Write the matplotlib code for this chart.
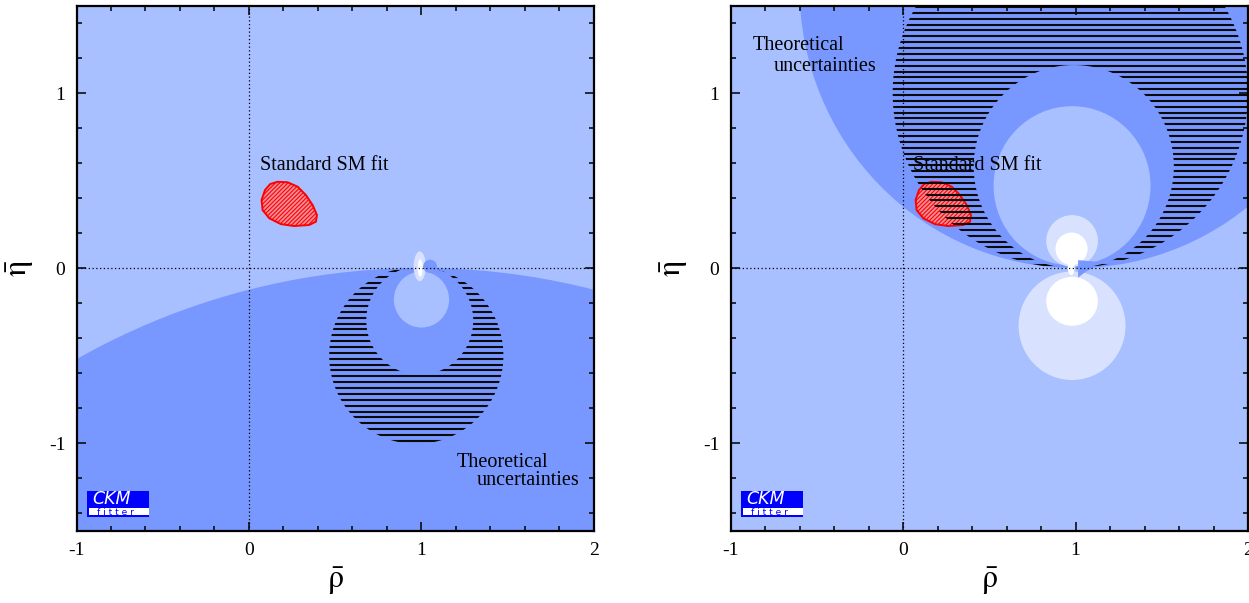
import numpy as np
import matplotlib
matplotlib.use("Agg")
import matplotlib.pyplot as plt
from matplotlib.patches import Ellipse, Polygon, PathPatch, Rectangle
from matplotlib.path import Path
from matplotlib.ticker import MultipleLocator

plt.rcParams['font.family'] = ['Liberation Serif', 'DejaVu Serif']
plt.rcParams['mathtext.fontset'] = 'stix'
plt.rcParams['axes.unicode_minus'] = False
plt.rcParams['hatch.linewidth'] = 0.8

# colours of the likelihood levels
light = '#A8C0FF'
dark = '#7898FF'
pale = '#D8E2FF'
white = '#FFFFFF'

# axes range and ticks
x_range = [-1, 2]
y_range = [-1.5, 1.5]
x_ticks = [-1, 0, 1, 2]
y_ticks = [-1, 0, 1]

# standard SM fit contour (rho, eta)
sm_rho = [0.166, 0.224, 0.282, 0.330, 0.369, 0.394, 0.388, 0.349, 0.262, 0.185, 0.118, 0.079, 0.073, 0.093, 0.123]
sm_eta = [0.493, 0.490, 0.465, 0.417, 0.360, 0.303, 0.265, 0.246, 0.240, 0.251, 0.284, 0.331, 0.389, 0.446, 0.480]

# regions as ellipses: (rho centre, eta centre, width, height, colour)
left_regions = [
    (1.0, -4.1, 8.2, 8.2, dark),
    (1.0, -0.18, 0.32, 0.32, light),
    (0.99, 0.01, 0.07, 0.17, pale),
    (0.993, 0.0, 0.028, 0.1, white),
    (1.05, 0.01, 0.08, 0.075, dark),
]
right_regions = [
    (1.0, 1.6, 3.2, 3.2, dark),
    (0.98, 0.47, 0.91, 0.91, light),
    (0.98, -0.33, 0.62, 0.62, pale),
    (0.98, 0.155, 0.30, 0.295, pale),
    (0.977, 0.11, 0.186, 0.186, white),
    (0.98, -0.19, 0.30, 0.28, white),
    (0.975, 0.0, 0.04, 0.08, white),
]
right_wedge_rho = [1.015, 1.015, 1.06, 1.14, 1.14]
right_wedge_eta = [0.045, -0.055, -0.02, 0.02, 0.035]

# theoretical uncertainty band: outer ellipse minus inner ellipse (cx, cy, w, h)
left_band_outer = (0.97, -0.5, 1.01, 1.01)
left_band_inner = (0.99, -0.30, 0.62, 0.62)
right_band_outer = (0.97, 1.0, 2.06, 2.0)
right_band_inner = (0.99, 0.58, 1.16, 1.16)

# label positions (rho, eta)
left_sm_pos = (0.064, 0.585)
right_sm_pos = (0.058, 0.585)
left_theo_pos = [(1.204, -1.109), (1.32, -1.217)]
right_theo_pos = [(-0.872, 1.274), (-0.75, 1.149)]


def ellipse_path(cx, cy, w, h, reverse=False):
    t = np.linspace(0, 2 * np.pi, 300)
    if reverse:
        t = t[::-1]
    v = np.column_stack([cx + w / 2 * np.cos(t), cy + h / 2 * np.sin(t)])
    codes = [Path.MOVETO] + [Path.LINETO] * (len(v) - 2) + [Path.CLOSEPOLY]
    return Path(v, codes)


def draw_band(ax, outer, inner):
    p = Path.make_compound_path(ellipse_path(*outer), ellipse_path(*inner, reverse=True))
    clip = PathPatch(p, facecolor='none', edgecolor='none')
    ax.add_patch(clip)
    ys = np.arange(-1.49, 1.5, 0.0335)
    lines = ax.hlines(ys, x_range[0], x_range[1], colors='#0a0a0a', linewidth=1.5, zorder=6)
    lines.set_clip_path(clip)


def draw_logo(ax):
    x0, x1 = 0.0203, 0.140
    ax.add_patch(Rectangle((x0, 0.0257), x1 - x0, 0.0495, transform=ax.transAxes,
                           facecolor='#0000FF', edgecolor='none', zorder=8))
    ax.add_patch(Rectangle((x0 + 0.003, 0.0295), x1 - x0 - 0.003, 0.0139, transform=ax.transAxes,
                           facecolor='white', edgecolor='none', zorder=9))
    ax.text(0.030, 0.0605, 'CKM', transform=ax.transAxes, color='white', fontsize=12.5,
            family='DejaVu Sans', style='italic', va='center', ha='left', zorder=10)
    ax.text(0.040, 0.0352, 'f i t t e r', transform=ax.transAxes, color='#0000FF',
            fontsize=6.5, family='DejaVu Sans', va='center', ha='left', zorder=10)


def setup(ax, regions, band_outer, band_inner, sm_pos, theo_pos):
    ax.set_facecolor(light)
    for cx, cy, w, h, c in regions:
        ax.add_patch(Ellipse((cx, cy), w, h, facecolor=c, edgecolor='none', zorder=1))
    ax.add_patch(Polygon(np.column_stack([sm_rho, sm_eta]), closed=True, facecolor='#F28E98',
                         edgecolor='#FF0000', linewidth=1.4, hatch='////////', zorder=4))
    ax.text(sm_pos[0], sm_pos[1], 'Standard SM fit', fontsize=14.5, va='center', ha='left', zorder=5)
    ax.text(theo_pos[0][0], theo_pos[0][1], 'Theoretical', fontsize=14.5, va='center', ha='left', zorder=5)
    ax.text(theo_pos[1][0], theo_pos[1][1], 'uncertainties', fontsize=14.5, va='center', ha='left', zorder=5)
    draw_band(ax, band_outer, band_inner)
    ax.axhline(0, color='black', linestyle=(0, (1, 2)), linewidth=0.9, zorder=7)
    ax.axvline(0, color='black', linestyle=(0, (1, 2)), linewidth=0.9, zorder=7)
    draw_logo(ax)
    ax.set_xlim(x_range)
    ax.set_ylim(y_range)
    ax.set_xticks(x_ticks)
    ax.set_yticks(y_ticks)
    ax.xaxis.set_minor_locator(MultipleLocator(0.2))
    ax.yaxis.set_minor_locator(MultipleLocator(0.2))
    ax.tick_params(which='both', direction='in', top=True, right=True, labelsize=14, width=1.1)
    ax.tick_params(which='major', length=6.5, pad=8)
    ax.tick_params(which='minor', length=3.6)
    for s in ax.spines.values():
        s.set_linewidth(1.6)
        s.set_zorder(11)
    ax.set_xlabel(r'$\bar{\mathrm{\rho}}$', fontsize=23, labelpad=5)
    ax.set_ylabel(r'$\bar{\mathrm{\eta}}$', fontsize=23, labelpad=9)


fig = plt.figure(figsize=(12.49, 6.03), dpi=100)
ax1 = fig.add_axes([0.06125, 0.1202, 0.4143, 0.8706])
ax2 = fig.add_axes([0.5849, 0.1202, 0.4143, 0.8706])

setup(ax1, left_regions, left_band_outer, left_band_inner, left_sm_pos, left_theo_pos)
setup(ax2, right_regions, right_band_outer, right_band_inner, right_sm_pos, right_theo_pos)
ax2.add_patch(Polygon(np.column_stack([right_wedge_rho, right_wedge_eta]), closed=True,
                      facecolor=dark, edgecolor='none', zorder=2))

fig.savefig('out.png', dpi=100)
